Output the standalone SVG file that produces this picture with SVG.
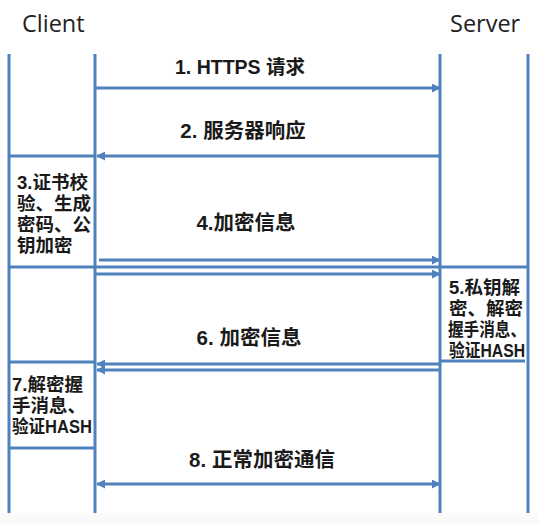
<svg xmlns="http://www.w3.org/2000/svg" width="539" height="524" viewBox="0 0 539 524">
<style>
.ln{stroke:#4f81bd;stroke-width:3;fill:none}
.hd{font-family:"Open Sans","Liberation Sans",sans-serif;font-size:23.5px;fill:#222}
.lb{font-family:"Liberation Sans","Noto Sans CJK SC",sans-serif;font-size:20.5px;font-weight:bold;fill:#1a1a1a;text-anchor:middle}
.nt{font-family:"Liberation Sans","Noto Sans CJK SC",sans-serif;font-size:18.5px;font-weight:bold;fill:#1a1a1a}
</style>
<defs>
<marker id="ah" viewBox="0 0 10 10" refX="9" refY="5" markerWidth="3.2" markerHeight="3" orient="auto-start-reverse" markerUnits="strokeWidth">
<path d="M0,0 L10,5 L0,10 Z" fill="#4f81bd"/>
</marker>
</defs>
<rect x="0" y="0" width="539" height="524" fill="#ffffff"/>
<rect x="0" y="513" width="539" height="11" fill="#fafafa"/>
<g id="client-header"><text class="hd" x="22" y="32">Client</text></g>
<g id="server-header"><text class="hd" x="450" y="32">Server</text></g>
<g id="lifelines">
<line class="ln" x1="9" y1="54" x2="9" y2="513"/>
<line class="ln" x1="95" y1="54" x2="95" y2="513"/>
<line class="ln" x1="440" y1="54" x2="440" y2="513"/>
<line class="ln" x1="528" y1="54" x2="528" y2="513"/>
</g>
<g id="connectors">
<line class="ln" x1="95" y1="88" x2="440" y2="88" marker-end="url(#ah)"/>
<line class="ln" x1="9" y1="156" x2="95" y2="156"/>
<line class="ln" x1="440" y1="156" x2="97" y2="156" marker-end="url(#ah)"/>
<line class="ln" x1="99" y1="260" x2="440" y2="260" marker-end="url(#ah)"/>
<line class="ln" x1="9" y1="267" x2="528" y2="267"/>
<line class="ln" x1="95" y1="274" x2="440" y2="274" marker-end="url(#ah)"/>
<line class="ln" x1="440" y1="361" x2="525" y2="361"/>
<line class="ln" x1="9" y1="362" x2="95" y2="362"/>
<line class="ln" x1="440" y1="364" x2="97" y2="364" marker-end="url(#ah)"/>
<line class="ln" x1="440" y1="370" x2="97" y2="370" marker-end="url(#ah)"/>
<line class="ln" x1="9" y1="448" x2="95" y2="448"/>
<line class="ln" x1="97" y1="484" x2="440" y2="484" marker-start="url(#ah)" marker-end="url(#ah)"/>
</g>
<g id="msg1"><text class="lb" x="240" y="74" style="font-size:19.5px">1. HTTPS 请求</text></g>
<g id="msg2"><text class="lb" x="243" y="138">2. 服务器响应</text></g>
<g id="note3">
<text class="nt" x="17" y="189">3.证书校</text>
<text class="nt" x="17" y="210">验、生成</text>
<text class="nt" x="17" y="231">密码、公</text>
<text class="nt" x="17" y="252">钥加密</text>
</g>
<g id="msg4"><text class="lb" x="246" y="230">4.加密信息</text></g>
<g id="note5">
<text class="nt" x="449" y="294">5.私钥解</text>
<text class="nt" x="449" y="315">密、解密</text>
<text class="nt" x="448" y="336" textLength="78" lengthAdjust="spacingAndGlyphs">握手消息、</text>
<text class="nt" x="449" y="357" textLength="76" lengthAdjust="spacingAndGlyphs">验证HASH</text>
</g>
<g id="msg6"><text class="lb" x="249" y="345">6. 加密信息</text></g>
<g id="note7">
<text class="nt" x="12" y="391">7.解密握</text>
<text class="nt" x="12" y="412">手消息、</text>
<text class="nt" x="12" y="433" textLength="80" lengthAdjust="spacingAndGlyphs">验证HASH</text>
</g>
<g id="msg8"><text class="lb" x="262" y="467">8. 正常加密通信</text></g>
</svg>
